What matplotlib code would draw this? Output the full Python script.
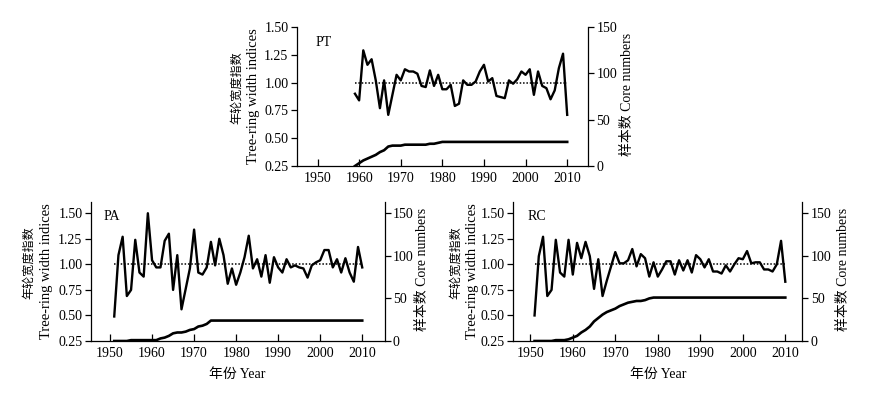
import matplotlib
matplotlib.use("Agg")
import matplotlib.pyplot as plt
import numpy as np

plt.rcParams['font.family'] = ['Liberation Serif', 'Noto Sans CJK SC', 'DejaVu Sans']
plt.rcParams['font.size'] = 10

# ---------------- data ----------------
years_pt = np.arange(1959, 2011)
rwi_pt = [0.90, 0.84, 1.29, 1.16, 1.21, 1.02, 0.77, 1.02, 0.71, 0.89,
          1.07, 1.02, 1.12, 1.10, 1.10, 1.08, 0.97, 0.96, 1.11, 0.97,
          1.07, 0.94, 0.94, 0.98, 0.79, 0.81, 1.02, 0.98, 0.98, 1.01,
          1.10, 1.16, 1.01, 1.04, 0.88, 0.87, 0.86, 1.02, 0.99, 1.03,
          1.10, 1.07, 1.12, 0.89, 1.10, 0.97, 0.95, 0.85, 0.93, 1.13,
          1.26, 0.71]
cores_pt = [0, 3, 6, 8, 10, 12, 15, 17, 21, 22,
            22, 22, 23, 23, 23, 23, 23, 23, 24, 24,
            25, 26, 26, 26, 26, 26, 26, 26, 26, 26,
            26, 26, 26, 26, 26, 26, 26, 26, 26, 26,
            26, 26, 26, 26, 26, 26, 26, 26, 26, 26,
            26, 26]

years_pa = np.arange(1951, 2011)
rwi_pa = [0.49, 1.09, 1.27, 0.69, 0.75, 1.24, 0.92, 0.88, 1.50, 1.04,
          0.97, 0.97, 1.23, 1.30, 0.75, 1.09, 0.56, 0.76, 0.96, 1.34,
          0.92, 0.90, 0.97, 1.22, 0.99, 1.25, 1.09, 0.81, 0.96, 0.80,
          0.92, 1.07, 1.28, 0.96, 1.05, 0.88, 1.09, 0.82, 1.07, 0.97,
          0.92, 1.05, 0.97, 0.99, 0.97, 0.96, 0.87, 0.99, 1.02, 1.04,
          1.14, 1.14, 0.97, 1.05, 0.92, 1.06, 0.92, 0.83, 1.17, 0.97]
cores_pa = [0, 0, 0, 0, 1, 1, 1, 1, 1, 1,
            1, 3, 4, 6, 9, 10, 10, 11, 13, 14,
            17, 18, 20, 24, 24, 24, 24, 24, 24, 24,
            24, 24, 24, 24, 24, 24, 24, 24, 24, 24,
            24, 24, 24, 24, 24, 24, 24, 24, 24, 24,
            24, 24, 24, 24, 24, 24, 24, 24, 24, 24]

years_rc = np.arange(1951, 2011)
rwi_rc = [0.50, 1.08, 1.27, 0.69, 0.75, 1.24, 0.92, 0.88, 1.24, 0.90,
          1.21, 1.06, 1.22, 1.08, 0.76, 1.05, 0.69, 0.84, 0.98, 1.12,
          1.01, 1.01, 1.04, 1.15, 0.98, 1.10, 1.06, 0.88, 1.02, 0.88,
          0.95, 1.03, 1.03, 0.90, 1.04, 0.94, 1.04, 0.92, 1.09, 1.05,
          0.97, 1.05, 0.93, 0.93, 0.91, 0.99, 0.93, 1.00, 1.06, 1.05,
          1.13, 1.01, 1.02, 1.02, 0.95, 0.95, 0.93, 1.00, 1.23, 0.83]
cores_rc = [0, 0, 0, 0, 0, 1, 1, 1, 2, 4,
            6, 10, 13, 17, 23, 27, 31, 34, 36, 38,
            41, 43, 45, 46, 47, 47, 48, 50, 51, 51,
            51, 51, 51, 51, 51, 51, 51, 51, 51, 51,
            51, 51, 51, 51, 51, 51, 51, 51, 51, 51,
            51, 51, 51, 51, 51, 51, 51, 51, 51, 51]

site_labels = ["PT", "PA", "RC"]
xticks = [1950, 1960, 1970, 1980, 1990, 2000, 2010]
yticks_left = [0.25, 0.50, 0.75, 1.00, 1.25, 1.50]
yticks_right = [0, 50, 100, 150]

# ---------------- figure ----------------
W, H = 881, 395
fig = plt.figure(figsize=(W / 100, H / 100), dpi=100)

def px_rect(l, t, r, b):
    return [l / W, 1 - b / H, (r - l) / W, (b - t) / H]

panels = [
    dict(box=(296.7, 27, 588, 166), years=years_pt, rwi=rwi_pt,
         cores=cores_pt, label=site_labels[0], ytop=1.50, xlim=(1945, 2015),
         xlabel=False, lab_xy=(0.066, 0.885), off=(-60, -43, 40)),
    dict(box=(90.7, 202, 384.5, 341), years=years_pa, rwi=rwi_pa,
         cores=cores_pa, label=site_labels[1], ytop=1.61, xlim=(1945.4, 2015.3),
         xlabel=True, lab_xy=(0.043, 0.895), off=(-62, -44.5, 38)),
    dict(box=(513.3, 202, 802.3, 341), years=years_rc, rwi=rwi_rc,
         cores=cores_rc, label=site_labels[2], ytop=1.61, xlim=(1946, 2014),
         xlabel=True, lab_xy=(0.048, 0.895), off=(-57, -40.5, 41)),
]

for p in panels:
    l, t, r, b = p["box"]
    ax = fig.add_axes(px_rect(l, t, r, b))
    ax2 = ax.twinx()
    ax.plot(p["years"], p["rwi"], color="black", lw=1.7, zorder=3)
    ax.hlines(1.0, p["years"][0], p["years"][-1], colors="black",
              linestyles=(0, (1, 1.2)), lw=1.1, zorder=2)
    ax2.plot(p["years"], p["cores"], color="black", lw=1.9)

    ax.set_xlim(*p["xlim"])
    ax.set_ylim(0.25, p["ytop"])
    ax2.set_ylim(0, (p["ytop"] - 0.25) * 120)
    ax.set_xticks(xticks)
    ax.set_yticks(yticks_left)
    ax.set_yticklabels([f"{v:.2f}" for v in yticks_left])
    ax2.set_yticks(yticks_right)

    for a in (ax, ax2):
        a.spines["top"].set_visible(False)
        for s in a.spines.values():
            s.set_linewidth(0.9)
    ax.spines["right"].set_visible(False)
    ax2.spines["left"].set_visible(False)
    ax2.spines["bottom"].set_visible(False)

    ax.tick_params(axis="x", direction="in", length=5, width=0.9, pad=4,
                   labelsize=10)
    ax.tick_params(axis="y", direction="out", length=4, width=0.9, pad=2,
                   labelsize=10)
    ax2.tick_params(axis="y", direction="out", length=4, width=0.9, pad=2,
                    labelsize=10)

    cy = (t + b) / 2
    o_cn, o_en, o_r = p["off"]
    fig.text((l + o_cn) / W, 1 - (cy - 9) / H, "年轮宽度指数", fontsize=8.7,
             rotation=90, ha="center", va="center")
    fig.text((l + o_en) / W, 1 - cy / H, "Tree-ring width indices",
             fontsize=10.5, rotation=90, ha="center", va="center")
    fig.text((r + o_r) / W, 1 - (cy - 2) / H, "样本数 Core numbers",
             fontsize=10, rotation=90, ha="center", va="center")
    if p["xlabel"]:
        ax.set_xlabel("年份 Year", fontsize=10, labelpad=6)
    ax.text(p["lab_xy"][0], p["lab_xy"][1], p["label"], transform=ax.transAxes,
            fontsize=10, ha="left", va="center")

fig.savefig("out.png", dpi=100)
